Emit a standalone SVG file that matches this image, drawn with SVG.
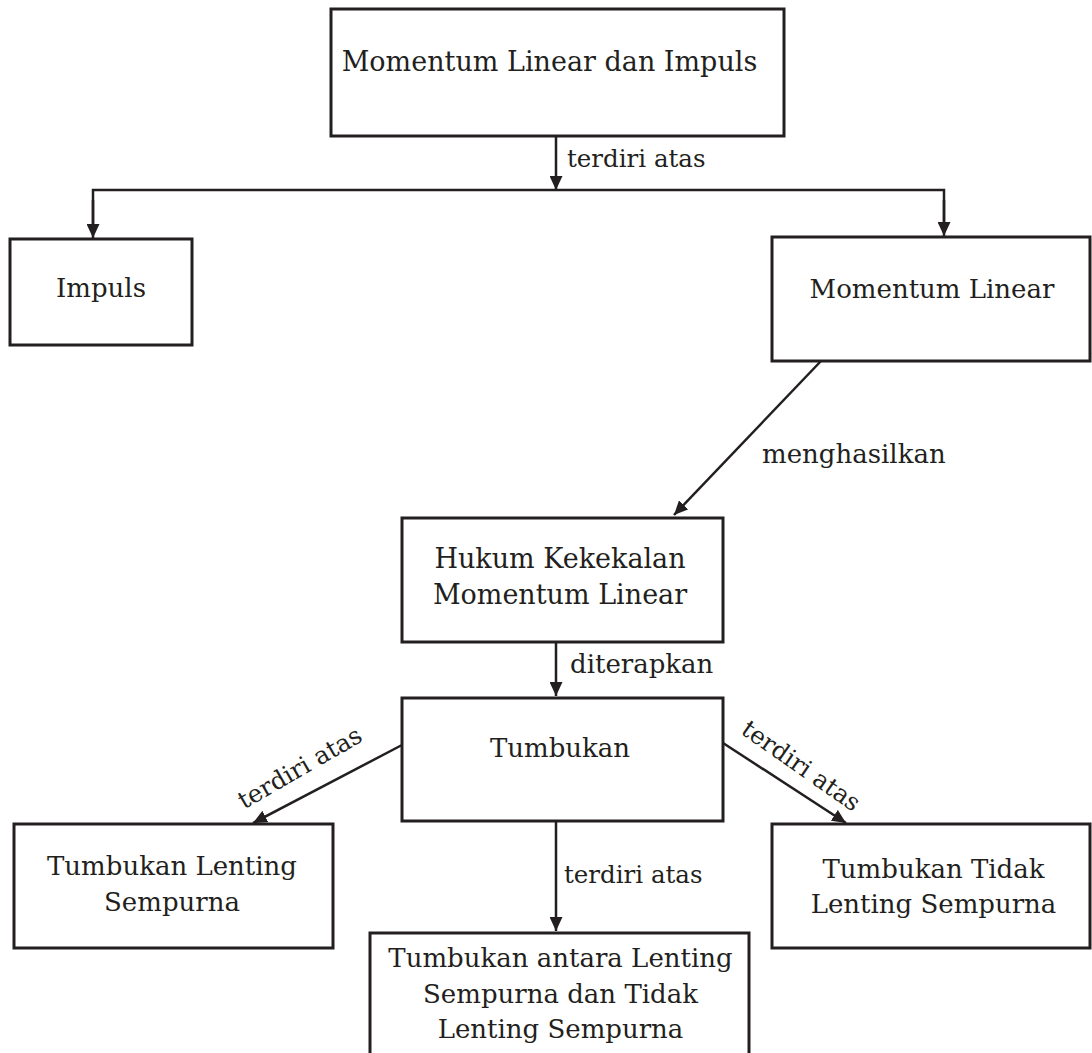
<svg xmlns="http://www.w3.org/2000/svg" width="1092" height="1053" viewBox="0 0 1092 1053">
<style>
.box{fill:#fff;stroke:#231f20;stroke-width:3}
.t{font-family:"DejaVu Serif","Liberation Serif",serif;font-size:26px;fill:#231f20}
.l{font-size:24.5px}
.big{font-size:27px}
.m{text-anchor:middle}
.c{fill:none;stroke:#231f20;stroke-width:2.5}
</style>
<defs>
<marker id="ah" markerUnits="userSpaceOnUse" markerWidth="15" markerHeight="13" refX="14" refY="6.5" orient="auto">
<path d="M0,0 L14,6.5 L0,13 z" fill="#231f20"/>
</marker>
</defs>
<rect width="1092" height="1053" fill="#fff"/>
<g id="connectors">
<line class="c" x1="556" y1="136" x2="556" y2="190" marker-end="url(#ah)"/>
<polyline class="c" points="93,225 93,190 944,190 944,225"/>
<line class="c" x1="93" y1="200" x2="93" y2="238" marker-end="url(#ah)"/>
<line class="c" x1="944" y1="200" x2="944" y2="236" marker-end="url(#ah)"/>
<line class="c" x1="821" y1="361" x2="674" y2="515" marker-end="url(#ah)"/>
<line class="c" x1="556" y1="642" x2="556" y2="696" marker-end="url(#ah)"/>
<line class="c" x1="402" y1="745" x2="253" y2="823" marker-end="url(#ah)"/>
<line class="c" x1="723" y1="743" x2="846" y2="823" marker-end="url(#ah)"/>
<line class="c" x1="556" y1="821" x2="556" y2="931" marker-end="url(#ah)"/>
<text class="t l" x="567" y="167">terdiri atas</text>
<text class="t" x="762" y="463">menghasilkan</text>
<text class="t" x="570" y="673">diterapkan</text>
<text class="t l" x="564" y="883">terdiri atas</text>
<text class="t l m" transform="translate(300,768) rotate(-30)" x="0" y="8">terdiri atas</text>
<text class="t l m" transform="translate(801,766) rotate(35)" x="0" y="8">terdiri atas</text>
</g>
<g id="n-momentum-impuls">
<rect class="box" x="331" y="9" width="453" height="127"/>
<text class="t big m" x="549.5" y="71">Momentum Linear dan Impuls</text>
</g>
<g id="n-impuls">
<rect class="box" x="10" y="239" width="182" height="106"/>
<text class="t m" x="101" y="297">Impuls</text>
</g>
<g id="n-momentum-linear">
<rect class="box" x="772" y="237" width="318" height="124"/>
<text class="t m" x="932" y="298">Momentum Linear</text>
</g>
<g id="n-hukum">
<rect class="box" x="402" y="518" width="321" height="124"/>
<text class="t big m" x="560" y="568">Hukum Kekekalan</text>
<text class="t big m" x="560" y="604">Momentum Linear</text>
</g>
<g id="n-tumbukan">
<rect class="box" x="402" y="698" width="321" height="123"/>
<text class="t m" x="560" y="757">Tumbukan</text>
</g>
<g id="n-lenting">
<rect class="box" x="14" y="824" width="319" height="124"/>
<text class="t m" x="172" y="875">Tumbukan Lenting</text>
<text class="t m" x="172" y="911">Sempurna</text>
</g>
<g id="n-tidak">
<rect class="box" x="772" y="824" width="318" height="124"/>
<text class="t m" x="933.5" y="878">Tumbukan Tidak</text>
<text class="t m" x="933.5" y="913">Lenting Sempurna</text>
</g>
<g id="n-antara">
<rect class="box" x="370" y="933" width="379" height="130"/>
<text class="t m" x="560.5" y="967">Tumbukan antara Lenting</text>
<text class="t m" x="560.5" y="1003">Sempurna dan Tidak</text>
<text class="t m" x="560.5" y="1038">Lenting Sempurna</text>
</g>
</svg>
